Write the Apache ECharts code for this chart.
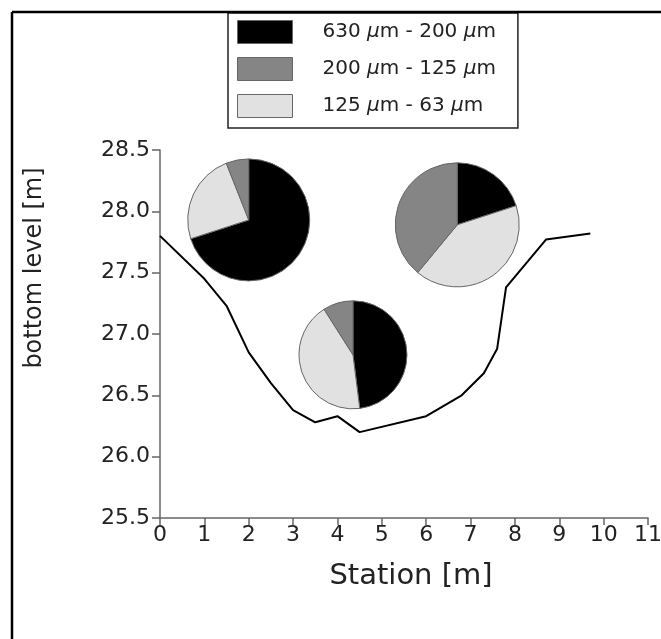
<!DOCTYPE html>
<html><head><meta charset="utf-8">
<script src="https://cdn.jsdelivr.net/npm/echarts@6/dist/echarts.min.js"></script>
<style>html,body{margin:0;padding:0;background:#fff}#c{width:661px;height:639px}</style>
</head><body><div id="c"></div>
<script>
// Bottom profile
const stationX    = [0, 1, 1.5, 2, 2.5, 3, 3.5, 4, 4.5, 6, 6.8, 7.3, 7.6, 7.8, 8.7, 9.7];
const bottomLevel = [27.8, 27.45, 27.23, 26.85, 26.6, 26.38, 26.28, 26.33, 26.2, 26.33, 26.5, 26.68, 26.88, 27.38, 27.77, 27.82];
// Grain size classes
const classNames = ['630 μm - 200 μm', '200 μm - 125 μm', '125 μm - 63 μm'];
const coarse = [70, 48, 20];   // 630-200
const medium = [6, 9, 39];     // 200-125
const fine   = [24, 43, 41];   // 125-63
const pieStation = [2, 4.35, 6.7];
const pieLevel   = [27.93, 26.83, 27.89];

const colors = {coarse: '#000000', medium: '#858585', fine: '#e1e1e1'};
const radii = [61, 54, 62];
const FONT = 'DejaVu Sans';

const chart = echarts.init(document.getElementById('c'), null, {renderer: 'canvas'});

function pieSeries(i, center) {
  return {
    type: 'pie', animation: false, silent: true,
    radius: radii[i], center: center,
    startAngle: 90, clockwise: true,
    label: {show: false}, labelLine: {show: false},
    itemStyle: {borderColor: '#666', borderWidth: 1},
    data: [
      {name: classNames[0], value: coarse[i], itemStyle: {color: colors.coarse}},
      {name: classNames[2], value: fine[i], itemStyle: {color: colors.fine}},
      {name: classNames[1], value: medium[i], itemStyle: {color: colors.medium}}
    ]
  };
}

const lineData = stationX.map((x, i) => [x, bottomLevel[i]]);

const option = {
  animation: false,
  backgroundColor: '#fff',
  grid: {left: 160, right: 13, top: 150, bottom: 121, containLabel: false, outerBoundsMode: 'none'},
  xAxis: {
    type: 'value', min: 0, max: 11, interval: 1,
    axisLine: {show: true, lineStyle: {color: '#666', width: 1.5}},
    axisTick: {show: true, length: 7, lineStyle: {color: '#666', width: 1.5}},
    axisLabel: {fontFamily: FONT, fontSize: 22, color: '#222', margin: 6, showMinLabel: true, showMaxLabel: true},
    splitLine: {show: false},
    name: 'Station [m]', nameLocation: 'middle', nameGap: 44,
    nameTextStyle: {fontFamily: FONT, fontSize: 29, color: '#222', padding: [0, 0, 0, 14]}
  },
  yAxis: {
    type: 'value', min: 25.5, max: 28.5, interval: 0.5,
    axisLine: {show: true, lineStyle: {color: '#666', width: 1.5}},
    axisTick: {show: true, length: 8, lineStyle: {color: '#666', width: 1.5}},
    axisLabel: {fontFamily: FONT, fontSize: 22, color: '#222', margin: 10,
      formatter: v => v.toFixed(1), showMinLabel: true, showMaxLabel: true},
    splitLine: {show: false}
  },
  legend: {
    orient: 'vertical', left: 228, top: 13,
    data: [classNames[0], classNames[1], classNames[2]],
    icon: 'rect', itemWidth: 55, itemHeight: 23, itemGap: 13,
    padding: [7, 22, 10, 9],
    borderColor: '#222', borderWidth: 1.5, backgroundColor: '#fff',
    selectedMode: false,
    itemStyle: {borderColor: '#666', borderWidth: 1},
    formatter: n => n.replace(/μ/g, '{i|μ}'),
    textStyle: {fontFamily: FONT, fontSize: 20, color: '#222', padding: [0, 0, 0, 25],
      rich: {i: {fontFamily: FONT, fontSize: 20, fontStyle: 'italic', color: '#222'}}}
  },
  graphic: [
    {type: 'line', shape: {x1: 12, y1: 12, x2: 661, y2: 12}, style: {stroke: '#000', lineWidth: 2.5}, z: 100},
    {type: 'line', shape: {x1: 12, y1: 12, x2: 12, y2: 639}, style: {stroke: '#000', lineWidth: 2.5}, z: 100},
    {type: 'text', x: 35, y: 268, rotation: Math.PI / 2,
      style: {text: 'bottom level [m]', fontFamily: FONT, fontSize: 24, fill: '#222',
        textAlign: 'center', textVerticalAlign: 'middle'}}
  ],
  series: [
    {type: 'line', data: lineData, showSymbol: false, symbol: 'none', silent: true,
      lineStyle: {color: '#000', width: 2}, z: 1},
    pieSeries(0, [0, 0]), pieSeries(1, [0, 0]), pieSeries(2, [0, 0])
  ]
};
chart.setOption(option);

const centers = pieStation.map((x, i) => chart.convertToPixel({gridIndex: 0}, [x, pieLevel[i]]));
chart.setOption({
  series: [
    {},
    {center: centers[0]}, {center: centers[1]}, {center: centers[2]}
  ]
});
</script>
</body></html>
